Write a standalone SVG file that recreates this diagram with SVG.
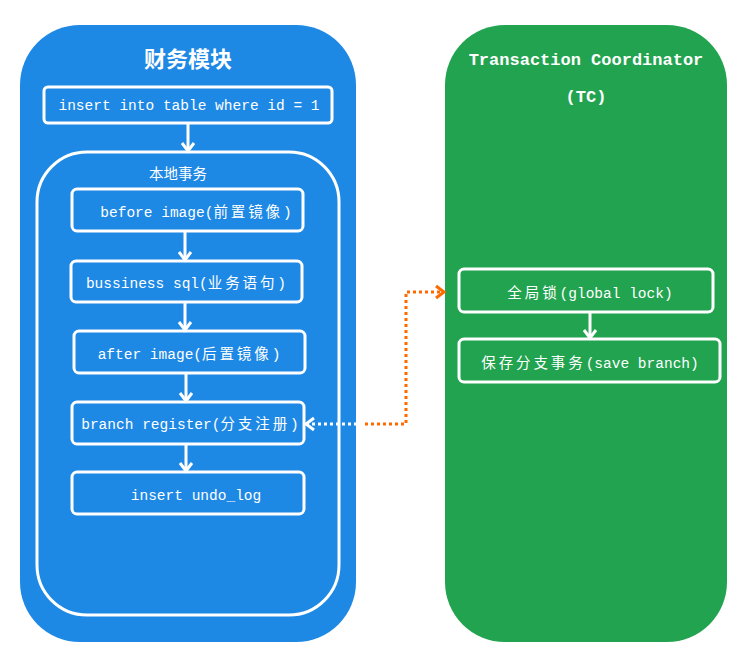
<svg xmlns="http://www.w3.org/2000/svg" width="738" height="654" viewBox="0 0 738 654">
<style>
.box{fill:none;stroke:#fff;stroke-width:3}
.t{font-family:"Liberation Mono","Noto Sans CJK SC",monospace;font-size:14.5px;fill:#fff;text-anchor:middle}
.c{letter-spacing:2.9px;font-family:"Noto Sans CJK SC",sans-serif}
.h{font-family:"Liberation Mono","Noto Sans CJK SC",monospace;font-weight:bold;fill:#fff;text-anchor:middle}
.w{fill:none;stroke:#fff;stroke-width:3}
</style>
<defs>
<marker id="aw" markerUnits="userSpaceOnUse" markerWidth="16" markerHeight="16" refX="12" refY="8" orient="auto" viewBox="0 0 16 16">
<path d="M4,2 L12,8 L4,14" fill="none" stroke="#fff" stroke-width="3"/>
</marker>
<marker id="ao" markerUnits="userSpaceOnUse" markerWidth="16" markerHeight="16" refX="12" refY="8" orient="auto" viewBox="0 0 16 16">
<path d="M4,2 L12,8 L4,14" fill="none" stroke="#ff6a00" stroke-width="3"/>
</marker>
</defs>
<rect width="738" height="654" fill="#fff"/>
<g id="finance">
<rect x="20" y="25" width="336" height="617" rx="60" fill="#1e88e5"/>
<text x="188" y="67" font-size="22" fill="#fff" text-anchor="middle" font-weight="bold" font-family="Noto Sans CJK SC,sans-serif">财务模块</text>
</g>
<g id="tc">
<rect x="445" y="25" width="282" height="617" rx="60" fill="#22a34f"/>
<text class="h" x="586" y="65" font-size="17">Transaction Coordinator</text>
<text class="h" x="586" y="102" font-size="17">(TC)</text>
</g>
<g id="sql">
<rect class="box" x="44" y="87" width="288" height="36" rx="4"/>
<text class="t" x="189" y="110">insert into table where id = 1</text>
</g>
<g id="local">
<rect class="box" x="37" y="152" width="302" height="463" rx="50"/>
<text class="t" x="178" y="179" font-family="Noto Sans CJK SC,sans-serif" font-size="15">本地事务</text>
</g>
<g id="before">
<rect class="box" x="72" y="189" width="231" height="42" rx="5"/>
<text class="t" x="196" y="217">before image(<tspan class="c">前置镜像</tspan>)</text>
</g>
<g id="biz">
<rect class="box" x="71" y="261" width="231" height="41" rx="5"/>
<text class="t" x="186" y="288">bussiness sql(<tspan class="c">业务语句</tspan>)</text>
</g>
<g id="after">
<rect class="box" x="74" y="331" width="231" height="42" rx="5"/>
<text class="t" x="189" y="359">after image(<tspan class="c">后置镜像</tspan>)</text>
</g>
<g id="branch">
<rect class="box" x="72" y="402" width="232" height="42" rx="5"/>
<text class="t" x="190" y="429">branch register(<tspan class="c">分支注册</tspan>)</text>
</g>
<g id="undo">
<rect class="box" x="72" y="472" width="232" height="42" rx="5"/>
<text class="t" x="196" y="500">insert undo_log</text>
</g>
<g id="lock">
<rect class="box" x="459" y="269" width="254" height="43" rx="5"/>
<text class="t" x="590" y="298"><tspan class="c">全局锁</tspan>(global lock)</text>
</g>
<g id="save">
<rect class="box" x="459" y="339" width="261" height="43" rx="5"/>
<text class="t" x="590" y="368"><tspan class="c">保存分支事务</tspan>(save branch)</text>
</g>
<g id="connectors">
<path class="w" d="M188,123 V151" marker-end="url(#aw)"/>
<path class="w" d="M185,231 V260" marker-end="url(#aw)"/>
<path class="w" d="M185,302 V330" marker-end="url(#aw)"/>
<path class="w" d="M186,373 V401" marker-end="url(#aw)"/>
<path class="w" d="M186,444 V471" marker-end="url(#aw)"/>
<path class="w" d="M590,312 V338" marker-end="url(#aw)"/>
<path d="M357,424 H306" fill="none" stroke="#fff" stroke-width="3" stroke-dasharray="3,3" marker-end="url(#aw)"/>
<path d="M365,424 H406 V292 H444" fill="none" stroke="#ff6a00" stroke-width="3" stroke-dasharray="3,3" marker-end="url(#ao)"/>
</g>
</svg>
